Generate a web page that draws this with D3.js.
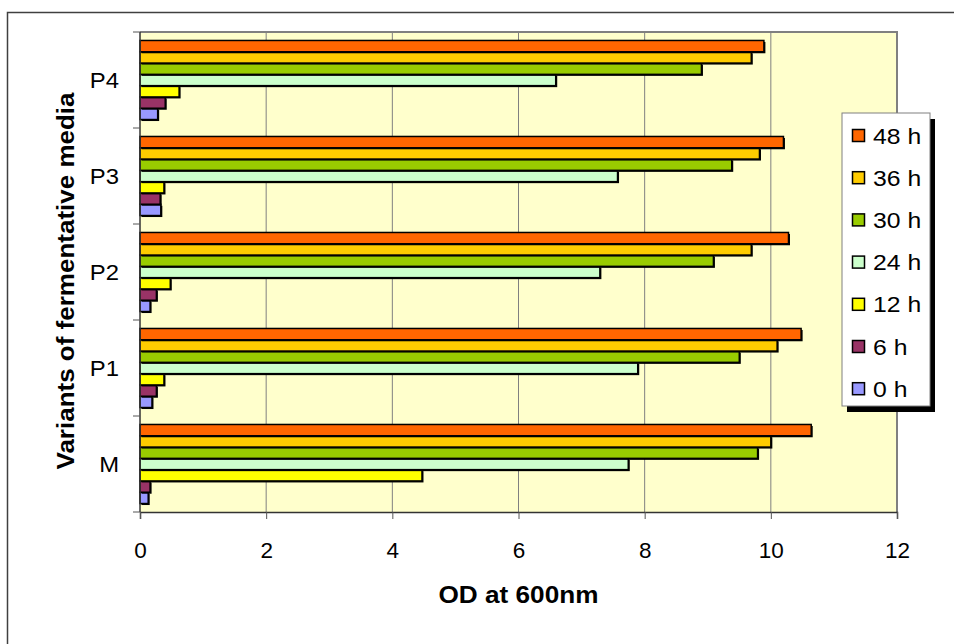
<!DOCTYPE html>
<html>
<head>
<meta charset="utf-8">
<script src="https://cdn.jsdelivr.net/npm/d3@7"></script>
<style>
  html, body { margin: 0; padding: 0; background: #ffffff; }
  svg { display: block; }
  text { font-family: Arial, "Liberation Sans", sans-serif; fill: #000; }
</style>
</head>
<body>
<svg id="chart" width="954" height="644"></svg>
<script>
// ---- Data ----
const categories = ["M", "P1", "P2", "P3", "P4"];
const seriesNames = ["0 h", "6 h", "12 h", "24 h", "30 h", "36 h", "48 h"];
const h0  = [0.13, 0.19, 0.16, 0.33, 0.28];
const h6  = [0.16, 0.26, 0.26, 0.32, 0.40];
const h12 = [4.47, 0.38, 0.48, 0.38, 0.62];
const h24 = [7.74, 7.89, 7.29, 7.57, 6.59];
const h30 = [9.79, 9.50, 9.09, 9.38, 8.90];
const h36 = [10.00, 10.10, 9.69, 9.82, 9.69];
const h48 = [10.64, 10.48, 10.28, 10.20, 9.89];
const xTicks = [0, 2, 4, 6, 8, 10, 12];
const xTitle = "OD at 600nm";
const yTitle = "Variants of fermentative media";
const colors = ["#9999FF", "#993366", "#FFFF00", "#CCFFCC", "#99CC00", "#FFCC00", "#FF6600"];

const seriesValues = [h0, h6, h12, h24, h30, h36, h48];
const series = seriesNames.map((name, i) => ({ name, values: seriesValues[i], color: colors[i] }));

// ---- Layout ----
const svg = d3.select("#chart");
const plot = { left: 140, right: 897, top: 32, bottom: 512 };

// outer chart frame
svg.append("path").attr("d", "M7.5,700 V12.5 H960")
  .attr("fill", "none").attr("stroke", "#404040").attr("stroke-width", 1.5);

const x = d3.scaleLinear().domain([0, 12]).range([plot.left, plot.right]);
const y0 = d3.scaleBand().domain(categories.slice().reverse()).range([plot.top, plot.bottom]).padding(0);
const y1 = d3.scaleBand().domain(seriesNames.slice().reverse()).range([0, y0.bandwidth()])
  .paddingInner(0).paddingOuter(0.75);

// plot background
svg.append("rect").attr("x", plot.left).attr("y", plot.top)
  .attr("width", plot.right - plot.left).attr("height", plot.bottom - plot.top)
  .attr("fill", "#FFFFCC");

// gridlines
svg.append("g").selectAll("line").data(xTicks.filter(t => t > 0 && t < 12)).join("line")
  .attr("x1", d => x(d)).attr("x2", d => x(d))
  .attr("y1", plot.top).attr("y2", plot.bottom)
  .attr("stroke", "#808080").attr("stroke-width", 1);

// plot border top & right
svg.append("path").attr("d", `M${plot.left},${plot.top} H${plot.right} V${plot.bottom}`)
  .attr("fill", "none").attr("stroke", "#808080").attr("stroke-width", 2);

// bars
const gBars = svg.append("g");
series.forEach(s => {
  const g = gBars.append("g");
  const data = categories.map((c, i) => ({ c, v: s.values[i] }));
  g.selectAll("rect.sh").data(data).join("rect").attr("class", "sh")
    .attr("x", x(0) + 1.5)
    .attr("y", d => y0(d.c) + y1(s.name) + 1.5)
    .attr("width", d => x(d.v) - x(0))
    .attr("height", y1.bandwidth())
    .attr("fill", "#000");
  g.selectAll("rect.bar").data(data).join("rect").attr("class", "bar")
    .attr("x", x(0))
    .attr("y", d => y0(d.c) + y1(s.name))
    .attr("width", d => x(d.v) - x(0))
    .attr("height", y1.bandwidth())
    .attr("fill", s.color)
    .attr("stroke", "#000").attr("stroke-width", 1.5);
});

// x axis
const xAxis = d3.axisBottom(x).tickValues(xTicks).tickSize(7).tickPadding(0).tickFormat(d3.format("d"));
const gx = svg.append("g").attr("transform", `translate(0,${plot.bottom})`).call(xAxis);
gx.select(".domain").attr("stroke", "#333").attr("stroke-width", 1.5);
gx.selectAll(".tick line").attr("stroke", "#555");
gx.selectAll(".tick text").attr("font-size", 22.5).attr("dy", null).attr("y", 45.5)
  .style("font-family", "Arial, 'Liberation Sans', sans-serif");

// y axis
const yTickPos = d3.range(categories.length + 1).map(i => plot.top + i * y0.bandwidth());
const gy = svg.append("g");
gy.append("line").attr("x1", plot.left).attr("x2", plot.left).attr("y1", plot.top).attr("y2", plot.bottom)
  .attr("stroke", "#333").attr("stroke-width", 1.5);
gy.selectAll("line.tk").data(yTickPos).join("line").attr("class", "tk")
  .attr("x1", plot.left - 7).attr("x2", plot.left).attr("y1", d => d).attr("y2", d => d)
  .attr("stroke", "#555");
gy.selectAll("text").data(categories).join("text")
  .attr("x", 119).attr("y", d => y0(d) + y0.bandwidth() / 2 + 7.5)
  .attr("text-anchor", "end").attr("font-size", 22.5).text(d => d)
  .each(function () {
    const w = this.getComputedTextLength();
    d3.select(this).attr("textLength", w * 1.06).attr("lengthAdjust", "spacingAndGlyphs");
  });

// axis titles
svg.append("text").attr("x", (plot.left + plot.right) / 2).attr("y", 603)
  .attr("text-anchor", "middle").attr("font-size", 23.5).attr("font-weight", "bold")
  .attr("textLength", 160).attr("lengthAdjust", "spacingAndGlyphs").text(xTitle);
svg.append("text").attr("transform", "translate(74,281) rotate(-90)")
  .attr("text-anchor", "middle").attr("font-size", 23.5).attr("font-weight", "bold")
  .attr("textLength", 377).attr("lengthAdjust", "spacingAndGlyphs").text(yTitle);

// legend
const lg = { x: 842, y: 113, w: 88, h: 293 };
svg.append("rect").attr("x", lg.x + 5).attr("y", lg.y + 6).attr("width", lg.w).attr("height", lg.h).attr("fill", "#000");
svg.append("rect").attr("x", lg.x).attr("y", lg.y).attr("width", lg.w).attr("height", lg.h)
  .attr("fill", "#fff").attr("stroke", "#808080").attr("stroke-width", 1);
const legendItems = series.slice().reverse();
const li = svg.append("g").selectAll("g").data(legendItems).join("g")
  .attr("transform", (d, i) => `translate(0,${136 + i * 42.2})`);
li.append("rect").attr("x", 852.5).attr("y", -6.5).attr("width", 12).attr("height", 12)
  .attr("fill", d => d.color).attr("stroke", "#000").attr("stroke-width", 1.5);
li.append("text").attr("x", 873).attr("y", 7.5).attr("font-size", 22.5).text(d => d.name)
  .each(function () {
    const w = this.getComputedTextLength();
    d3.select(this).attr("textLength", w * 1.1).attr("lengthAdjust", "spacingAndGlyphs");
  });
</script>
</body>
</html>
